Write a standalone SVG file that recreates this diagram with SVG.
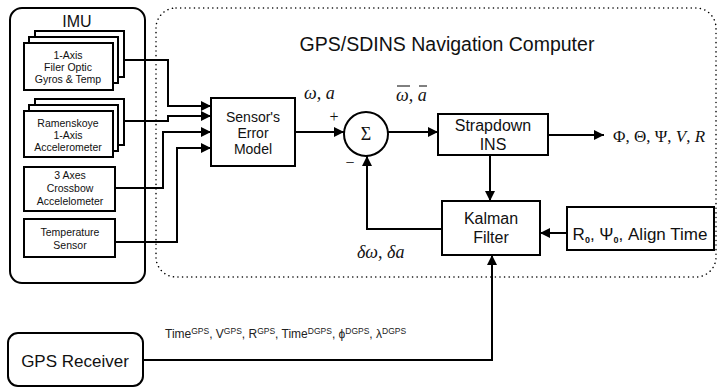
<svg xmlns="http://www.w3.org/2000/svg" width="720" height="388" viewBox="0 0 720 388">
<style>
.box{fill:#fff;stroke:#000;stroke-width:2}
.ln{fill:none;stroke:#000;stroke-width:2}
.sm{font-family:"Liberation Sans",Arial,sans-serif;font-size:10.5px;text-anchor:middle;fill:#111}
.sa{font-family:"Liberation Sans",Arial,sans-serif;text-anchor:middle;fill:#111}
.mt{font-family:"Liberation Serif","Times New Roman",serif;fill:#111}
</style>
<defs>
<marker id="ah" viewBox="0 0 10 10" refX="10" refY="5" markerWidth="10" markerHeight="10" markerUnits="userSpaceOnUse" orient="auto">
<path d="M0,0 L10,5 L0,10 Z" fill="#000"/>
</marker>
</defs>
<rect width="720" height="388" fill="#fff"/>

<g id="nav-computer">
<rect x="156" y="8" width="560" height="269" rx="20" fill="none" stroke="#000" stroke-width="1.5" stroke-dasharray="0.1 4.5" stroke-linecap="round"/>
<text x="447" y="51" class="sa" style="font-size:19.5px">GPS/SDINS Navigation Computer</text>
</g>

<g id="imu">
<rect x="10" y="8" width="135" height="275" rx="12" class="box" fill="none"/>
<text x="77" y="27" class="sa" style="font-size:16px">IMU</text>
</g>

<g id="gyros">
<rect x="35" y="31" width="89" height="46" class="box"/>
<rect x="29" y="37" width="89" height="46" class="box"/>
<rect x="24" y="43" width="89" height="47" class="box"/>
<text x="68" y="59" class="sm">1-Axis</text>
<text x="68" y="71" class="sm">Filer Optic</text>
<text x="68" y="83" class="sm">Gyros &amp; Temp</text>
</g>

<g id="ramenskoye">
<rect x="35" y="99" width="89" height="46" class="box"/>
<rect x="29" y="105" width="89" height="46" class="box"/>
<rect x="24" y="111" width="89" height="46" class="box"/>
<text x="68" y="127" class="sm">Ramenskoye</text>
<text x="68" y="139" class="sm">1-Axis</text>
<text x="68" y="151" class="sm">Accelerometer</text>
</g>

<g id="crossbow">
<rect x="24" y="167" width="91" height="44" class="box"/>
<text x="70" y="179" class="sm">3 Axes</text>
<text x="70" y="192" class="sm">Crossbow</text>
<text x="70" y="205" class="sm">Accelelometer</text>
</g>

<g id="temperature">
<rect x="24" y="219" width="91" height="38" class="box"/>
<text x="70" y="236" class="sm">Temperature</text>
<text x="70" y="249" class="sm">Sensor</text>
</g>

<g id="sensor-error-model">
<rect x="211" y="98" width="84" height="68" class="box"/>
<text x="253" y="122" class="sa" style="font-size:14px">Sensor's</text>
<text x="253" y="138" class="sa" style="font-size:14px">Error</text>
<text x="253" y="154" class="sa" style="font-size:14px">Model</text>
</g>

<g id="sum">
<circle cx="366" cy="134" r="22" class="box"/>
<text x="366" y="140" class="mt" style="font-size:18px" text-anchor="middle">Σ</text>
<text x="334" y="122" class="mt" style="font-size:16px" text-anchor="middle">+</text>
<text x="350" y="168" class="mt" style="font-size:16px" text-anchor="middle">−</text>
</g>

<g id="strapdown">
<rect x="438" y="114" width="110" height="41" class="box"/>
<text x="493" y="131" class="sa" style="font-size:16px">Strapdown</text>
<text x="493" y="150" class="sa" style="font-size:16px">INS</text>
</g>

<g id="kalman">
<rect x="442" y="201" width="98" height="54" class="box"/>
<text x="491" y="224" class="sa" style="font-size:16px">Kalman</text>
<text x="491" y="243" class="sa" style="font-size:16px">Filter</text>
</g>

<g id="align">
<rect x="567" y="207" width="147" height="43" class="box"/>
<text x="640" y="240" class="sa" style="font-size:17px">R<tspan style="font-size:9px;font-weight:bold" dy="3">0</tspan><tspan dy="-3">, Ψ</tspan><tspan style="font-size:9px;font-weight:bold" dy="3">0</tspan><tspan dy="-3">, Align Time</tspan></text>
</g>

<g id="gps-receiver">
<rect x="8" y="333" width="135" height="53" rx="10" class="box"/>
<text x="75" y="367" class="sa" style="font-size:17px">GPS Receiver</text>
</g>

<g id="connectors">
<polyline points="124,60 168,60 168,106 211,106" class="ln" marker-end="url(#ah)"/>
<polyline points="124,121 168,121 168,116 211,116" class="ln" marker-end="url(#ah)"/>
<polyline points="115,188 163,188 163,132 211,132" class="ln" marker-end="url(#ah)"/>
<polyline points="115,242 177,242 177,148 211,148" class="ln" marker-end="url(#ah)"/>
<line x1="295" y1="132" x2="344" y2="132" class="ln" marker-end="url(#ah)"/>
<line x1="388" y1="132" x2="438" y2="132" class="ln" marker-end="url(#ah)"/>
<line x1="548" y1="135" x2="604" y2="135" class="ln" marker-end="url(#ah)"/>
<line x1="490" y1="155" x2="490" y2="201" class="ln" marker-end="url(#ah)"/>
<line x1="567" y1="233" x2="540" y2="233" class="ln" marker-end="url(#ah)"/>
<polyline points="442,229 367,229 367,156" class="ln" marker-end="url(#ah)"/>
<polyline points="143,360 492,360 492,255" class="ln" marker-end="url(#ah)"/>
</g>

<g id="labels">
<text x="304" y="99" class="mt" style="font-size:18px;font-style:italic">ω, a</text>
<text x="396" y="101" class="mt" style="font-size:18px;font-style:italic">ω, a</text>
<line x1="397" y1="86" x2="410" y2="86" stroke="#000" stroke-width="1"/>
<line x1="419" y1="86" x2="427" y2="86" stroke="#000" stroke-width="1"/>
<text x="613" y="142" class="mt" style="font-size:17px">Φ, Θ, Ψ, <tspan font-style="italic">V</tspan>, <tspan font-style="italic">R</tspan></text>
<text x="357" y="258" class="mt" style="font-size:18px;font-style:italic">δω, δa</text>
<text x="165" y="338" font-family="'Liberation Sans',Arial,sans-serif" font-size="12" fill="#222">Time<tspan font-size="8.5" dy="-4">GPS</tspan><tspan dy="4">, V</tspan><tspan font-size="8.5" dy="-4">GPS</tspan><tspan dy="4">, R</tspan><tspan font-size="8.5" dy="-4">GPS</tspan><tspan dy="4">, Time</tspan><tspan font-size="8.5" dy="-4">DGPS</tspan><tspan dy="4">, ϕ</tspan><tspan font-size="8.5" dy="-4">DGPS</tspan><tspan dy="4">, λ</tspan><tspan font-size="8.5" dy="-4">DGPS</tspan></text>
</g>
</svg>
